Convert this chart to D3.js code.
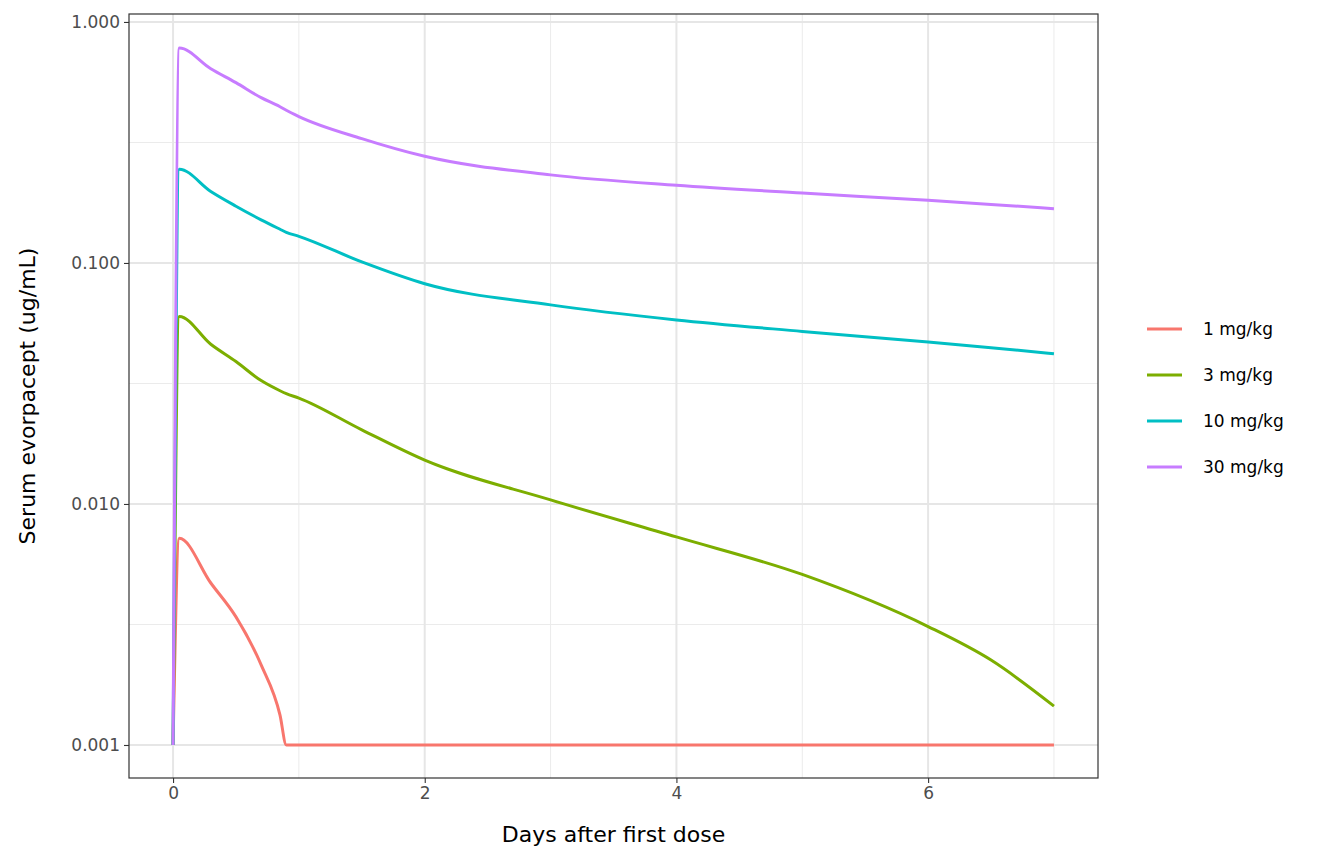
<!DOCTYPE html>
<html><head><meta charset="utf-8">
<script src="https://cdn.jsdelivr.net/npm/d3@7"></script>
<style>body{margin:0;background:#fff;font-family:"DejaVu Sans",sans-serif}</style>
</head><body><svg id="viz" width="1344" height="864"></svg>
<script>
let doses = ["1 mg/kg", "3 mg/kg", "10 mg/kg", "30 mg/kg"];
let colors = ["#F8766D", "#7CAE00", "#00BFC4", "#C77CFF"];
let days = [0, 0.05, 0.3, 0.5, 0.7, 0.85, 0.9, 1, 1.5, 2, 3, 4, 5, 6, 6.5, 7];
let dose1 = [0.001, 0.0072, 0.0047, 0.0034, 0.00215, 0.00133, 0.001, 0.001, 0.001, 0.001, 0.001, 0.001, 0.001, 0.001, 0.001, 0.001];
let dose3 = [0.001, 0.06, 0.046, 0.039, 0.0325, 0.0295, 0.0287, 0.0275, 0.0203, 0.0152, 0.0104, 0.0073, 0.0051, 0.0031, 0.00225, 0.00145];
let dose10 = [0.001, 0.245, 0.198, 0.172, 0.151, 0.138, 0.134, 0.129, 0.101, 0.082, 0.067, 0.058, 0.052, 0.047, 0.0445, 0.042];
let dose30 = [0.001, 0.78, 0.64, 0.56, 0.485, 0.445, 0.43, 0.405, 0.328, 0.277, 0.232, 0.21, 0.195, 0.182, 0.175, 0.168];
let series = [dose1, dose3, dose10, dose30];
let xTicks = [0, 2, 4, 6];
let yTicks = [0.001, 0.01, 0.1, 1];
let yTickLabels = ["0.001", "0.010", "0.100", "1.000"];

let L = 129, R = 1098, T = 14, B = 778;
let svg = d3.select("#viz");
let x = d3.scaleLinear().domain([-0.35, 7.35]).range([L, R]);
let y = d3.scaleLog().domain([Math.pow(10, -3.137), Math.pow(10, 0.033)]).range([B, T]);

let g = svg.append("g");
[1, 3, 5, 7].forEach(v => g.append("line").attr("x1", x(v)).attr("x2", x(v)).attr("y1", T).attr("y2", B).attr("stroke", "#ebebeb").attr("stroke-width", 1));
[-2.5, -1.5, -0.5].forEach(v => g.append("line").attr("x1", L).attr("x2", R).attr("y1", y(Math.pow(10, v))).attr("y2", y(Math.pow(10, v))).attr("stroke", "#ebebeb").attr("stroke-width", 1));
xTicks.forEach(v => g.append("line").attr("x1", x(v)).attr("x2", x(v)).attr("y1", T).attr("y2", B).attr("stroke", "#e6e6e6").attr("stroke-width", 2));
yTicks.forEach(v => g.append("line").attr("x1", L).attr("x2", R).attr("y1", y(v)).attr("y2", y(v)).attr("stroke", "#e6e6e6").attr("stroke-width", 2));

let line = d3.line().x(d => x(d[0])).y(d => y(d[1])).curve(d3.curveMonotoneX);
series.forEach((s, i) => {
    svg.append("path").datum(days.map((d, j) => [d, s[j]]))
        .attr("d", line).attr("fill", "none").attr("stroke", colors[i]).attr("stroke-width", 3);
});

svg.append("rect").attr("x", L).attr("y", T).attr("width", R - L).attr("height", B - T)
    .attr("fill", "none").attr("stroke", "#333").attr("stroke-width", 1.2);

let xa = svg.append("g").attr("transform", `translate(0,${B})`)
    .call(d3.axisBottom(x).tickValues(xTicks).tickSize(5).tickPadding(4));
let ya = svg.append("g").attr("transform", `translate(${L},0)`)
    .call(d3.axisLeft(y).tickValues(yTicks).tickFormat((d, i) => yTickLabels[i]).tickSize(5).tickPadding(4));
[xa, ya].forEach(a => {
    a.attr("font-size", null).attr("font-family", null);
    a.select(".domain").remove();
    a.selectAll("line").attr("stroke", "#333").attr("stroke-width", 1.1);
    a.selectAll("text").attr("fill", "#4d4d4d").style("font-size", "17px").style("font-family", "DejaVu Sans");
});

svg.append("text").attr("x", (L + R) / 2).attr("y", 842).attr("text-anchor", "middle")
    .style("font-size", "22px").text("Days after first dose");
svg.append("text").attr("transform", `translate(35,${(T + B) / 2}) rotate(-90)`).attr("text-anchor", "middle")
    .style("font-size", "22px").text("Serum evorpacept (ug/mL)");

doses.forEach((d, i) => {
    let yy = 329 + i * 46;
    svg.append("line").attr("x1", 1147).attr("x2", 1182).attr("y1", yy).attr("y2", yy).attr("stroke", colors[i]).attr("stroke-width", 3);
    svg.append("text").attr("x", 1203).attr("y", yy + 6).style("font-size", "17px").text(d);
});
</script></body></html>
